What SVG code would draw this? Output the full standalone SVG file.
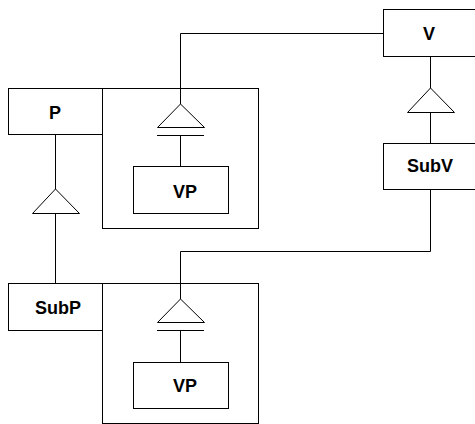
<svg xmlns="http://www.w3.org/2000/svg" width="475" height="424" viewBox="0 0 475 424">
<style>
rect{fill:#fff;stroke:#000;stroke-width:1}
.c{fill:none;stroke:#000;stroke-width:1}
.tri{fill:#fff;stroke:#000;stroke-width:1}
text{font-family:"Liberation Sans",Arial,sans-serif;font-weight:bold;font-size:18px;text-anchor:middle}
</style>
<rect width="475" height="424" style="fill:#fff;stroke:none"/>
<g id="connectors">
<polyline class="c" points="383.5,33.5 180.5,33.5 180.5,104"/>
<line class="c" x1="180.5" y1="135.5" x2="180.5" y2="166"/>
<line class="c" x1="55.5" y1="134" x2="55.5" y2="189"/>
<line class="c" x1="55.5" y1="213" x2="55.5" y2="283"/>
<line class="c" x1="430.5" y1="56" x2="430.5" y2="88"/>
<line class="c" x1="430.5" y1="112" x2="430.5" y2="143"/>
<polyline class="c" points="430.5,189 430.5,251.5 180.5,251.5 180.5,299"/>
<line class="c" x1="180.5" y1="330.5" x2="180.5" y2="362"/>
<polygon class="tri" points="180.5,104 157.5,127.5 204.5,127.5"/>
<line class="c" x1="157" y1="135.5" x2="204" y2="135.5"/>
<polygon class="tri" points="55.5,189 32.5,213.5 79.5,213.5"/>
<polygon class="tri" points="430.5,88 407.5,112.5 454.5,112.5"/>
<polygon class="tri" points="180.5,299 157.5,322.5 204.5,322.5"/>
<line class="c" x1="157" y1="330.5" x2="204" y2="330.5"/>
</g>
<g id="P"><rect x="8.5" y="88.5" width="94" height="46"/><text x="55" y="119">P</text></g>
<g id="VP1box"><rect x="102.5" y="88.5" width="156" height="140" style="fill:none"/></g>
<g id="VP1"><rect x="133.5" y="166.5" width="95" height="47"/><text x="185" y="198">VP</text></g>
<g id="V"><rect x="383.5" y="9.5" width="95" height="47"/><text x="429" y="40">V</text></g>
<g id="SubV"><rect x="383.5" y="143.5" width="95" height="46"/><text x="430" y="172">SubV</text></g>
<g id="SubP"><rect x="8.5" y="283.5" width="94" height="47"/><text x="58" y="314">SubP</text></g>
<g id="VP2box"><rect x="102.5" y="283.5" width="156" height="140" style="fill:none"/></g>
<g id="VP2"><rect x="133.5" y="362.5" width="95" height="46"/><text x="185" y="392">VP</text></g>
</svg>
